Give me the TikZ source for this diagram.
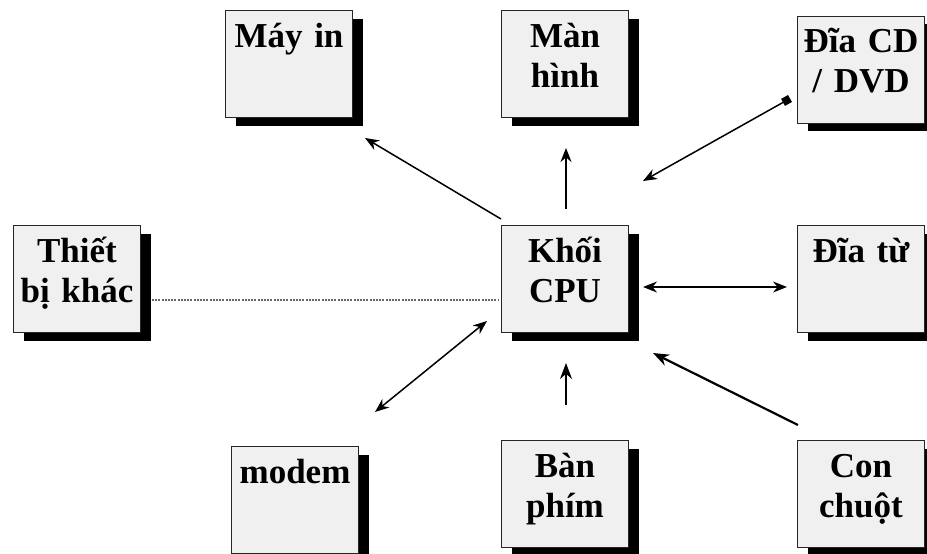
\documentclass[tikz,border=0pt]{standalone}
\usepackage{fontspec}
\setmainfont{Liberation Serif}
\usetikzlibrary{arrows.meta,shadows,positioning}

\begin{document}
\begin{tikzpicture}[x=1pt,y=-1pt,
  unit/.style={draw=black!85,line width=1pt,fill=black!6,
    minimum width=127pt,minimum height=107pt,inner sep=0pt,
    general shadow={fill=black,shadow xshift=10pt,shadow yshift=-8pt}},
  txt/.style={anchor=base,text width=126pt,align=center,inner sep=0pt,
    font=\fontsize{35}{40}\selectfont\bfseries},
  link/.style={line width=1.5pt,-{Stealth[length=14pt,width=11pt]}},
  both/.style={line width=1.5pt,{Stealth[length=14pt,width=11pt]}-{Stealth[length=14pt,width=11pt]}}]
  \useasboundingbox (0,0) rectangle (927,554);
  \clip (0,0) rectangle (927,554);

  % Nodes
  \node[unit] (mayin) at (289,64) {};
  \node[unit] (manhinh) at (565,64) {};
  \node[unit] (cd) at (861,69.5) {};
  \node[unit] (khac) at (77,279) {};
  \node[unit] (cpu) at (565,279) {};
  \node[unit] (ditu) at (861,279) {};
  \node[unit] (modem) at (295,500) {};
  \node[unit] (banphim) at (565,494) {};
  \node[unit] (chuot) at (861,494) {};

  % Labels
  \node[txt] (mayin-t) at ([yshift=-37pt]mayin.north) {Máy in};
  \node[txt] (manhinh-t) at ([yshift=-37pt]manhinh.north) {Màn\\hình};
  \node[txt] (cd-t) at ([yshift=-37pt]cd.north) {Đĩa CD\\/ DVD};
  \node[txt] (khac-t) at ([yshift=-37pt]khac.north) {Thiết\\bị khác};
  \node[txt] (cpu-t) at ([yshift=-37pt]cpu.north) {Khối\\CPU};
  \node[txt] (ditu-t) at ([yshift=-37pt]ditu.north) {Đĩa từ};
  \node[txt] (modem-t) at ([yshift=-37pt]modem.north) {modem};
  \node[txt] (banphim-t) at ([yshift=-37pt]banphim.north) {Bàn\\phím};
  \node[txt] (chuot-t) at ([yshift=-37pt]chuot.north) {Con\\chuột};

  % Connectors
  \draw[link] ([yshift=6pt]cpu.north west) -- ([shift={(12pt,-20pt)}]mayin.south east);
  \draw[link] ([xshift=1pt,yshift=16pt]cpu.north) -- ([xshift=1pt,yshift=-30pt]manhinh.south);
  \draw[line width=1.5pt,{Stealth[length=14pt,width=11pt]}-{Square[length=8pt,width=8pt]}]
    ([shift={(14pt,44pt)}]cpu.north east) -- ([shift={(-7pt,-29pt)}]cd.west);
  \draw[both] ([shift={(14pt,-8pt)}]cpu.east) -- ([shift={(-10pt,-8pt)}]ditu.west);
  \draw[line width=2pt,black!60,dash pattern=on 2pt off 1.2pt]
    ([shift={(11pt,-21pt)}]khac.east) -- ([shift={(-2pt,-21pt)}]cpu.west);
  \draw[both] ([shift={(-14pt,12pt)}]cpu.south west) -- ([shift={(16pt,34pt)}]modem.north east);
  \draw[line width=1.8pt,-{Stealth[length=16pt,width=12pt]}]
    ([xshift=1pt,yshift=35pt]banphim.north) -- ([xshift=1pt,yshift=-30pt]cpu.south);
  \draw[line width=2.2pt,-{Stealth[length=16pt,width=12pt]}]
    ([shift={(1pt,15pt)}]chuot.north west) -- ([shift={(24pt,-20pt)}]cpu.south east);
\end{tikzpicture}
\end{document}
